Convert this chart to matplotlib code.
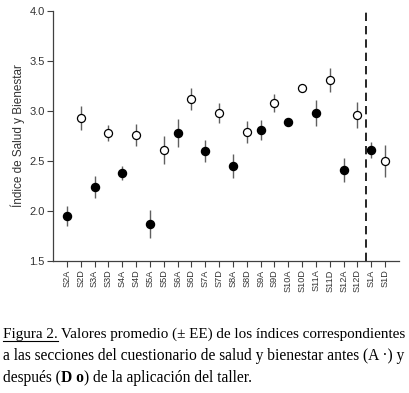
import numpy as np
import matplotlib.pyplot as plt
from matplotlib.lines import Line2D

# Données
etiquettes = ['S2A', 'S2D', 'S3A', 'S3D', 'S4A', 'S4D', 'S5A', 'S5D', 'S6A', 'S6D',
              'S7A', 'S7D', 'S8A', 'S8D', 'S9A', 'S9D', 'S10A', 'S10D', 'S11A', 'S11D',
              'S12A', 'S12D', 'S1A', 'S1D']
moyennes = [1.95, 2.93, 2.24, 2.78, 2.38, 2.76, 1.87, 2.61, 2.78, 3.12,
            2.60, 2.98, 2.45, 2.79, 2.81, 3.08, 2.89, 3.23, 2.98, 3.31,
            2.41, 2.96, 2.61, 2.50]
erreurs = [0.10, 0.12, 0.11, 0.08, 0.07, 0.11, 0.14, 0.14, 0.14, 0.11,
           0.11, 0.10, 0.12, 0.11, 0.10, 0.09, 0.02, 0.02, 0.13, 0.12,
           0.12, 0.13, 0.08, 0.16]
separation = 21.62

plt.rcParams['font.family'] = ['Liberation Sans', 'DejaVu Sans']

fig = plt.figure(figsize=(4.10, 3.93), dpi=100)
ax = fig.add_axes([53 / 410, 1 - 261 / 393, 346 / 410, 250 / 393])

x = np.arange(len(etiquettes))
for xi, m, e, lab in zip(x, moyennes, erreurs, etiquettes):
    ax.errorbar(xi, m, yerr=e, fmt='none', ecolor='#606060', elinewidth=1, capsize=0, zorder=1)
    if lab.endswith('A'):
        ax.plot(xi, m, 'o', color='black', markersize=5.8, zorder=3)
    else:
        ax.plot(xi, m, 'o', markerfacecolor='white', markeredgecolor='black',
                markeredgewidth=0.9, markersize=5.8, zorder=3)

ax.axvline(separation, color='black', linestyle=(0, (5, 3)), linewidth=1.2)

ax.set_xlim(-1, 24)
ax.set_ylim(1.5, 4.0)
ax.set_yticks([1.5, 2.0, 2.5, 3.0, 3.5, 4.0])
ax.set_yticklabels(['1.5', '2.0', '2.5', '3.0', '3.5', '4.0'])
ax.set_xticks(x)
ax.set_xticklabels(etiquettes, rotation=90)
ax.tick_params(axis='both', direction='out', length=4, width=0.8, color='#404040',
               labelcolor='#333333', pad=2)
ax.tick_params(axis='y', labelsize=8)
ax.tick_params(axis='x', labelsize=6.6)
ax.spines['top'].set_visible(False)
ax.spines['right'].set_visible(False)
for s in ['left', 'bottom']:
    ax.spines[s].set_color('#404040')
    ax.spines[s].set_linewidth(0.9)
ax.set_ylabel('Índice de Salud y Bienestar', fontsize=8.5, color='#333333', labelpad=3)

# Légende de la figure (texte en serif)
serif = ['Liberation Serif', 'DejaVu Serif']
taille = 11.2
fig.canvas.draw()
renderer = fig.canvas.get_renderer()
W = fig.bbox.width


def morceau(x0, y, texte, taille, poids='normal'):
    t = fig.text(x0, y, texte, family=serif, fontsize=taille, va='baseline', weight=poids)
    return t, t.get_window_extent(renderer).x1 / W


y1 = 1 - 338 / 393
t0, x_fin = morceau(3 / 410, y1, 'Figura 2.', 10.9)
fig.add_artist(Line2D([3 / 410, x_fin], [y1 - 2.5 / 393, y1 - 2.5 / 393],
                      color='black', linewidth=0.8))
morceau(x_fin + 3 / 410, y1, 'Valores promedio (± EE) de los índices correspondientes', 10.9)
morceau(3 / 410, 1 - 360 / 393,
        'a las secciones del cuestionario de salud y bienestar antes (A ·) y', taille)
y3 = 1 - 382 / 393
_, xa = morceau(3 / 410, y3, 'después (', taille)
_, xb = morceau(xa, y3, 'D o', taille, 'bold')
morceau(xb, y3, ') de la aplicación del taller.', taille)

fig.savefig('out.png', dpi=100)
